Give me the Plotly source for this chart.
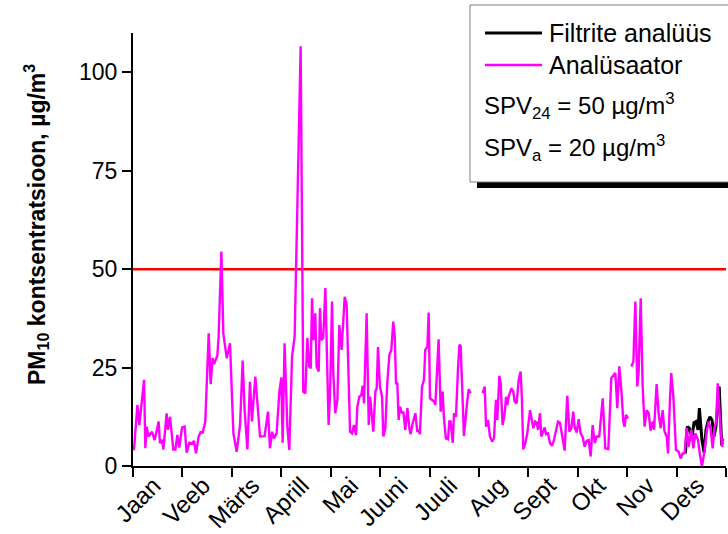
import plotly.graph_objects as go

# Month labels and yearly axis layout (days of year)
months = ["Jaan", "Veeb", "Märts", "Aprill", "Mai", "Juuni",
          "Juuli", "Aug", "Sept", "Okt", "Nov", "Dets"]
YEAR_DAYS = 365
month_edges = [k * YEAR_DAYS / 12 for k in range(13)]
month_mids = [(k + 0.5) * YEAR_DAYS / 12 for k in range(12)]

# Limit values, µg/m3
SPV24 = 50
SPVA = 20

# Continuous analyser record (day of year, PM10 µg/m3); None marks data gaps
analyser_day = [
    0.6, 2.7, 3.9, 6.8, 7.6, 8.4, 9.6, 11.7, 13.3, 15.8, 16.6, 17.9, 18.7, 20.7,
    21.5, 22.8, 23.6, 24.8, 26.1, 27.3, 28.5, 30.2, 31.8, 33.0, 34.7, 36.3, 37.5,
    38.8, 40.4, 41.6, 42.9, 44.5, 46.6, 47.8, 49.0, 49.9, 51.9, 52.7, 54.4, 55.6,
    57.7, 59.7, 61.8, 63.8, 65.9, 67.5, 68.7, 70.4, 72.0,
    73.2, 75.3, 78.2, 81.0, 83.1, 84.3, 85.6, 86.8, 88.4, 90.1, 91.3, 92.1, 93.3,
    95.0, 96.2, 97.9, 99.5, 103.2, 104.8, 106.1, 107.3, 108.5, 109.4, 110.2,
    111.0, 112.2, 113.0, 114.3, 115.1, 115.9, 117.1, 118.4, 119.6, 120.4, 121.3,
    122.5, 123.3, 124.5, 125.8, 127.0, 128.4, 130.3, 131.5, 133.6, 134.8, 136.0,
    137.3, 138.1, 139.3, 140.5, 141.4, 142.2, 143.8, 145.1,
    145.9, 146.7, 147.9, 149.2, 150.0, 150.8, 152.0, 153.3, 154.1, 155.3, 156.5,
    157.8, 159.0, 160.2, 161.1, 161.9, 162.7, 163.5, 164.3, 165.6, 166.4, 167.6,
    168.9, 170.1, 170.9, 172.1, 173.8, 175.0, 175.8, 176.6, 177.9, 179.1, 179.9,
    181.2, 182.0, 182.8, 184.0, 185.3, 186.1, 186.9, 188.1, 189.4, 190.6, 191.4,
    192.6, 193.9, 194.7, 195.5, 196.8, 197.6, 198.8, 200.0, 200.9, 201.7, 202.9,
    203.7, 205.4, 206.6, 207.8, None,
    215.2, 216.5, 217.3, 218.5, 219.7,
    221.0, 222.2, 223.4, 224.2, 225.5, 226.3, 227.5, 228.8, 229.6, 230.4, 231.2,
    232.9, 234.1, 234.9, 236.1, 237.4, 238.6, 239.4, 240.2, 241.5, 242.7, 244.4,
    245.6, 246.4, 247.6, 248.5, 249.3, 250.5, 251.3, 252.6, 253.4, 254.2, 255.4,
    256.7, 257.9, 259.1, 260.4, 261.6, 262.8, 264.0, 265.7, 267.3, 268.6, 269.8,
    271.0, 271.8, 273.1, 274.3, 275.5, 276.8, 278.0, 279.2, 280.5, 281.7, 282.9,
    284.2, 285.4, 287.0, 289.1, 290.7, 292.6,
    294.4, 295.6, 296.9, 298.1, 299.3, 300.6, 301.8, 302.6, 303.4, 304.7, None,
    306.7, 308.0, 309.2, 310.4, 311.2, 312.5, 313.7, 314.9, 316.2, 317.4, 318.6,
    319.9, 320.7, 322.3, 323.5, 324.8, 326.0, 327.2, 328.5, 329.3, 330.5, 331.3,
    332.6, 334.2, 335.9, 337.1, 338.3, 339.5, 340.8, 342.0, 343.7, 344.9, 346.1,
    347.8, 349.0, 350.2, 351.9, 353.1, 354.3, 355.6, 356.8, 358.0, 358.9, 359.9,
    361.3, 362.5, 363.3,
]
analyser_pm10 = [
    4, 15.5, 10.4, 21.9, 4.5, 10, 7.5, 8.7, 6.6, 11.3, 5.8, 6.6, 4.2, 13.4,
    9.2, 12.5, 9.2, 4.2, 4.2, 7.9, 4.7, 9.8, 10, 3.4, 5.9, 5.6, 6.4,
    3.2, 7.5, 8.6, 8.5, 11.3, 33.7, 20.8, 27.4, 25.9, 28, 32.9, 54.5, 33.7,
    27.4, 31.2, 8.3, 3.6, 10.4, 26.8, 14.2, 4.2, 21.4,
    11.3, 22.7, 7.5, 7.6, 13.8, 4.5, 8.7, 7, 8.3, 18.9, 22.5, 5.9, 31.2,
    10, 4.1, 27.8, 32.9, 106.6, 18.9, 18.5, 32.5, 25.3, 24.8, 42.6,
    32, 38.8, 25.3, 24, 40.1, 32, 32.5, 45.2, 19.3, 10.4, 18.5,
    41.8, 23.6, 13.4, 16.8, 35.8, 29.5, 43, 41, 8.7, 8.3, 10.4,
    7.8, 15.1, 17.6, 18, 20.4, 15.9, 38.8, 10.4,
    17.6, 13.4, 8.7, 18.9, 19.7, 30.2, 20.2, 17.6, 7.5, 9.6, 21,
    28.2, 29.5, 36.7, 32.9, 21, 21, 11.7, 15.1, 13.4, 13.8, 9.2,
    14.7, 9.6, 8.1, 10.8, 13.4, 8.7, 9.2, 8.1, 20.2, 21.9, 29.5,
    30.3, 39, 17.2, 16.9, 16.4, 15.5, 21.9, 32.2, 13.8, 18.9, 12.1,
    7, 6.8, 11.3, 11.3, 5.9, 13.4, 12.5, 24.4, 30.8, 30.5, 16.8,
    7.6, 15.1, 19.5, 18.5, None,
    18.5, 20.2, 10, 11.7, 7.5,
    6.2, 7, 16.8, 11.7, 22.9, 21, 10.4, 13.4, 17.6, 15.5, 17.6,
    19.7, 18.9, 16.4, 15.9, 21.9, 24, 16.8, 4.2, 5.8, 8.3, 14.2,
    11.7, 9.6, 11.3, 11, 9.2, 13.4, 7.5, 8.7, 9.8, 8.1, 8.3,
    5.8, 5.1, 6.6, 8.7, 11.3, 11, 8.3, 3.9, 17.8, 8.7, 9.6,
    13.8, 10, 8.5, 11.9, 8.3, 7.3, 4.9, 6.4, 6.6, 2.4, 10.4,
    5.8, 7.5, 7.5, 17.2, 4.5, 4.3,
    22.3, 23, 23.6, 14.7, 25.3, 19.3, 11.3, 10, 13, 12.1, None,
    25.3, 26.5, 41.8, 20.2, 23.6, 42.6, 20.2, 10, 14.2, 13.4, 9,
    11.3, 9.2, 20.8, 13.4, 9.6, 14.2, 8.7, 7.5, 3.2, 16.8, 23.6,
    17.6, 4.1, 3.6, 1.9, 3.2, 3.2, 9.6, 4.9, 9.2, 4.5, 8.3,
    6.6, 2.8, 0, 4.1, 8.7, 11.3, 9.2, 4.5, 10, 10.8, 21,
    11.7, 4.9, 7,
]

# Filter (gravimetric) analysis, December
filter_day = [340.0, 341.2, 342.4, 344.1, 345.3, 346.5, 347.8, 348.6, 350.2,
              351.5, 352.7, 353.9, 355.1, 356.4, 357.6, 358.8, 360.8, 362.3, 363.3]
filter_pm10 = [3.2, 10, 9.6, 7.5, 11, 11.3, 9.2, 14.7, 6.6,
               3.4, 9.2, 11.3, 12.5, 11.7, 7.5, 10, 20.2, 5.8, 6]

W, H = 728, 534
ML, MR, MT, MB = 133, 2, 33, 68
PW, PH = W - ML - MR, H - MT - MB


def px(x):
    return (x - ML) / PW


def py(y):
    return (H - MB - y) / PH


FONT = "Liberation Sans, Arial, sans-serif"

fig = go.Figure()

fig.add_trace(go.Scatter(
    x=[0, YEAR_DAYS], y=[SPV24, SPV24], mode="lines",
    line=dict(color="#ff0000", width=2.5), showlegend=False, hoverinfo="skip"))

fig.add_trace(go.Scatter(
    x=filter_day, y=filter_pm10, mode="lines", name="Filtrite analüüs",
    line=dict(color="black", width=3), showlegend=False))

fig.add_trace(go.Scatter(
    x=analyser_day, y=analyser_pm10, mode="lines", name="Analüsaator",
    line=dict(color="#ff00ff", width=2.4), connectgaps=False, showlegend=False))

# Legend box with drop shadow
shapes = [
    dict(type="rect", xref="paper", yref="paper",
         x0=px(477), x1=px(740), y0=py(188), y1=py(11),
         fillcolor="black", line=dict(width=0), layer="above"),
    dict(type="rect", xref="paper", yref="paper",
         x0=px(470), x1=px(735), y0=py(182), y1=py(5),
         fillcolor="white", line=dict(color="#7f7f7f", width=1), layer="above"),
    dict(type="line", xref="paper", yref="paper",
         x0=px(485), x1=px(542), y0=py(33), y1=py(33),
         line=dict(color="black", width=3), layer="above"),
    dict(type="line", xref="paper", yref="paper",
         x0=px(485), x1=px(542), y0=py(65), y1=py(65),
         line=dict(color="#ff00ff", width=2.4), layer="above"),
]

LEG = dict(family=FONT, size=25, color="black")
SPV_FONT = dict(family=FONT, size=24, color="black")
annotations = [
    dict(xref="paper", yref="paper", x=px(547), y=py(33), text="Filtrite analüüs",
         showarrow=False, xanchor="left", yanchor="middle", font=LEG),
    dict(xref="paper", yref="paper", x=px(547), y=py(65), text="Analüsaator",
         showarrow=False, xanchor="left", yanchor="middle", font=LEG),
    dict(xref="paper", yref="paper", x=px(482), y=py(106),
         text=f"SPV<sub>24</sub> = {SPV24} µg/m<sup>3</sup>",
         showarrow=False, xanchor="left", yanchor="middle", font=SPV_FONT),
    dict(xref="paper", yref="paper", x=px(482), y=py(148),
         text=f"SPV<sub>a</sub> = {SPVA} µg/m<sup>3</sup>",
         showarrow=False, xanchor="left", yanchor="middle", font=SPV_FONT),
    dict(xref="paper", yref="paper", x=px(36), y=py(225), textangle=-90,
         text="<b>PM<sub>10</sub> kontsentratsioon, µg/m<sup>3</sup></b>",
         showarrow=False, xanchor="center", yanchor="middle",
         font=dict(family=FONT, size=23, color="black")),
]

fig.update_layout(
    width=W, height=H,
    margin=dict(l=ML, r=MR, t=MT, b=MB, pad=0, autoexpand=False),
    paper_bgcolor="white", plot_bgcolor="white",
    font=dict(family=FONT, size=23, color="black"),
    shapes=shapes, annotations=annotations,
    xaxis=dict(
        range=[0, YEAR_DAYS], tickmode="array", tickvals=month_mids, ticktext=months,
        ticks="", tickangle=-45,
        ticklabelstandoff=-6, ticklabelshift=-4, automargin=False,
        showgrid=False, zeroline=False,
        showline=True, linecolor="black", linewidth=2,
        tickfont=dict(family=FONT, size=24, color="black"),
        minor=dict(tickmode="array", tickvals=month_edges, ticks="outside",
                   ticklen=9, tickwidth=2, tickcolor="black", showgrid=False),
    ),
    yaxis=dict(
        range=[0, 110], tickvals=[0, 25, 50, 75, 100], ticks="outside",
        ticklen=9, tickwidth=2, tickcolor="black", showgrid=False, zeroline=False,
        showline=True, linecolor="black", linewidth=2, automargin=False,
        tickfont=dict(family=FONT, size=23, color="black"),
    ),
)

fig.write_html("out.html")
